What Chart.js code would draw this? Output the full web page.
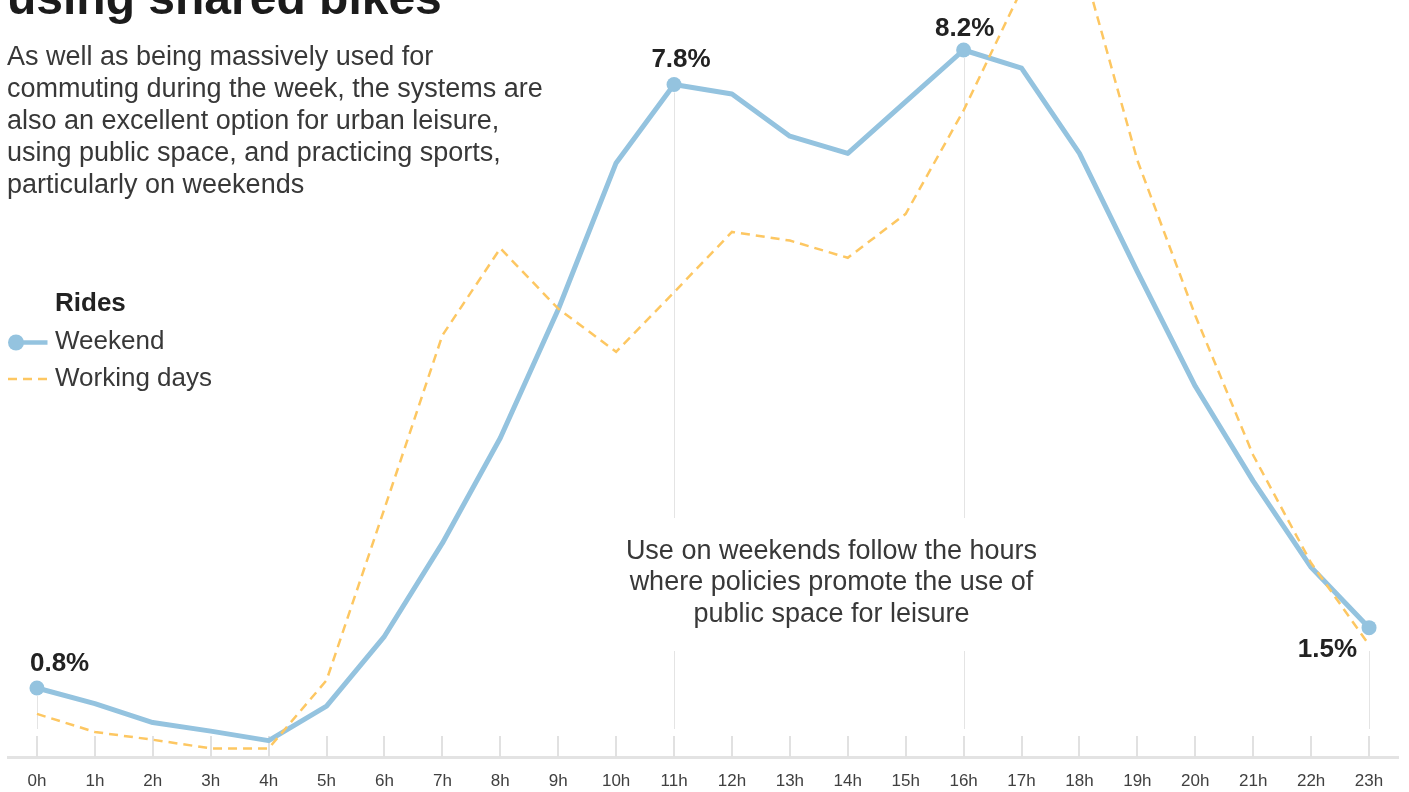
<!DOCTYPE html>
<html>
<head>
<meta charset="utf-8">
<title>Hourly rides on shared bikes</title>
<script src="https://cdn.jsdelivr.net/npm/chart.js@4/dist/chart.umd.min.js"></script>
<style>
  html, body { margin: 0; padding: 0; background: #fff; }
  #wrap { position: relative; width: 1409px; height: 792px; overflow: hidden; font-family: "Liberation Sans", Arial, sans-serif; }
  #box { position: absolute; left: 0; top: 0; width: 1409px; height: 792px; }
  .title { position: absolute; left: 7px; top: -25.6px; font-size: 48px; line-height: 48px; font-weight: bold; color: #1b1b1b; white-space: nowrap; }
  .intro { position: absolute; left: 7px; top: 40px; font-size: 27px; line-height: 32px; color: #383838; white-space: nowrap; }
  .legend { position: absolute; left: 0; top: 284px; font-size: 26px; line-height: 37.5px; color: #383838; }
  .legend div { position: relative; padding-left: 55px; white-space: nowrap; }
  .legend b { color: #222; }
  .legend svg { position: absolute; left: 0; top: 0; }
  .note { position: absolute; left: 581.5px; top: 534.5px; width: 500px; text-align: center; font-size: 27px; line-height: 31.5px; color: #383838; }
</style>
</head>
<body>
<div id="wrap">
  <div id="box"><canvas id="chart"></canvas></div>
  <div class="title">using shared bikes</div>
  <div class="intro">As well as being massively used for<br>commuting during the week, the systems are<br>also an excellent option for urban leisure,<br>using public space, and practicing sports,<br>particularly on weekends</div>
  <div class="legend">
    <div><b>Rides</b></div>
    <div><svg width="50" height="38"><line x1="16" y1="20.5" x2="47.5" y2="20.5" stroke="#94c3df" stroke-width="4.5"/><circle cx="16" cy="20.5" r="8" fill="#94c3df"/></svg>Weekend</div>
    <div><svg width="50" height="38"><line x1="8" y1="20" x2="48" y2="20" stroke="#fdc762" stroke-width="2.5" stroke-dasharray="9 6"/></svg>Working days</div>
  </div>
  <div class="note">Use on weekends follow the hours<br>where policies promote the use of<br>public space for leisure</div>
</div>
<script>
// share of daily rides per hour, in %
const hours = ['0h', '1h', '2h', '3h', '4h', '5h', '6h', '7h', '8h', '9h', '10h', '11h',
  '12h', '13h', '14h', '15h', '16h', '17h', '18h', '19h', '20h', '21h', '22h', '23h'];
const weekend = [0.8, 0.62, 0.4, 0.3, 0.19, 0.59, 1.4, 2.48, 3.7, 5.19, 6.89, 7.8,
  7.69, 7.2, 7.0, 7.6, 8.2, 7.99, 7.0, 5.63, 4.3, 3.2, 2.2, 1.5];
const workdays = [0.5, 0.29, 0.2, 0.1, 0.1, 0.89, 2.88, 4.89, 5.9, 5.2, 4.7, 5.39,
  6.09, 5.99, 5.79, 6.3, 7.5, 8.9, 9.33, 6.92, 5.12, 3.5, 2.25, 1.3];
// hours that get a dot, a value label and a drop line
const marked = [0, 11, 16, 23];

const BLUE = '#94c3df';
const YELLOW = '#fdc762';

// where each value label sits relative to its dot
const labelPos = {
  0: { dx: -7, dy: -17, align: 'left' },
  11: { dx: 7, dy: -17, align: 'center' },
  16: { dx: 1, dy: -14, align: 'center' },
  23: { dx: -12, dy: 29, align: 'right' }
};
// vertical band left free for the note text
const noteTop = 518, noteBottom = 651;

const guides = {
  id: 'guides',
  beforeDatasetsDraw(chart) {
    const { ctx, chartArea, scales: { x } } = chart;
    const base = chartArea.bottom;
    ctx.save();
    // short tick marks standing on the axis
    ctx.strokeStyle = '#e1e1e1';
    ctx.lineWidth = 2;
    hours.forEach((h, i) => {
      const px = Math.round(x.getPixelForValue(i));
      ctx.beginPath();
      ctx.moveTo(px, base - 21);
      ctx.lineTo(px, base);
      ctx.stroke();
    });
    // thin drop lines below the labelled dots
    const meta = chart.getDatasetMeta(0);
    ctx.strokeStyle = '#e4e4e4';
    ctx.lineWidth = 1;
    const end = base - 28;
    const seg = (px, a, b) => {
      if (b <= a) return;
      ctx.beginPath();
      ctx.moveTo(px, a);
      ctx.lineTo(px, b);
      ctx.stroke();
    };
    marked.forEach(i => {
      const p = meta.data[i];
      const px = Math.round(p.x) + 0.5;
      const top = p.y + 8;
      if (top < noteTop) {
        seg(px, top, noteTop);
        seg(px, noteBottom, end);
      } else {
        seg(px, Math.max(top, noteBottom), end);
      }
    });
    ctx.restore();
  },
  afterDatasetsDraw(chart) {
    const { ctx } = chart;
    const meta = chart.getDatasetMeta(0);
    ctx.save();
    ctx.font = 'bold 26px "Liberation Sans", Arial, sans-serif';
    ctx.fillStyle = '#222';
    ctx.textBaseline = 'alphabetic';
    marked.forEach(i => {
      const p = meta.data[i];
      const o = labelPos[i];
      ctx.textAlign = o.align;
      ctx.fillText(weekend[i].toFixed(1) + '%', p.x + o.dx, p.y + o.dy);
    });
    ctx.restore();
  }
};

Chart.defaults.font.family = '"Liberation Sans", Arial, sans-serif';

new Chart(document.getElementById('chart'), {
  type: 'line',
  data: {
    labels: hours,
    datasets: [
      {
        label: 'Weekend',
        data: weekend,
        borderColor: BLUE,
        backgroundColor: BLUE,
        borderWidth: 5,
        borderJoinStyle: 'round',
        pointRadius: ctx => marked.includes(ctx.dataIndex) ? 7.5 : 0,
        pointHoverRadius: ctx => marked.includes(ctx.dataIndex) ? 7.5 : 0,
        pointBorderWidth: 0,
        pointBackgroundColor: BLUE,
        tension: 0,
        order: 2
      },
      {
        label: 'Working days',
        data: workdays,
        borderColor: YELLOW,
        borderWidth: 2.5,
        borderDash: [9, 6],
        pointRadius: 0,
        pointHoverRadius: 0,
        tension: 0,
        order: 1
      }
    ]
  },
  options: {
    responsive: true,
    maintainAspectRatio: false,
    animation: false,
    events: [],
    layout: { autoPadding: false, padding: { left: 8, right: 11, top: 0, bottom: 0 } },
    plugins: {
      legend: { display: false },
      tooltip: { enabled: false }
    },
    scales: {
      x: {
        type: 'category',
        offset: true,
        grid: { drawOnChartArea: false, drawTicks: false },
        border: { display: true, color: '#e3e3e3', width: 3 },
        ticks: { color: '#404040', font: { size: 17 }, padding: 14, maxRotation: 0, autoSkip: false },
        afterFit(scale) { scale.height = 35; }
      },
      y: {
        display: false,
        min: 0,
        max: 8.78
      }
    }
  },
  plugins: [guides]
});
</script>
</body>
</html>
